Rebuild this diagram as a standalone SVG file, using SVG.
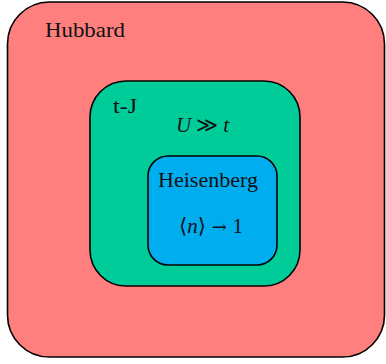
<svg xmlns="http://www.w3.org/2000/svg" width="386" height="364" viewBox="0 0 386 364">
<style>
.box{stroke:#000;stroke-width:1.6}
.t{font-family:"Liberation Serif","DejaVu Serif",serif;font-size:21px;fill:#111}
.m{font-style:italic}
.a{font-family:"DejaVu Serif",serif;font-size:18px}
</style>
<rect width="386" height="364" fill="#fff"/>
<g id="hubbard">
<rect class="box" x="7.5" y="2" width="377" height="355" rx="42" fill="#FF7F7F"/>
<text class="t" x="45" y="37" textLength="80" lengthAdjust="spacingAndGlyphs">Hubbard</text>
</g>
<g id="tj">
<rect class="box" x="90" y="81" width="210" height="205" rx="36" fill="#00CC99"/>
<text class="t" x="113" y="113" textLength="24" lengthAdjust="spacingAndGlyphs">t-J</text>
<text class="t" x="176" y="132" textLength="53" lengthAdjust="spacing"><tspan class="m">U</tspan> ≫ <tspan class="m">t</tspan></text>
</g>
<g id="heisenberg">
<rect class="box" x="148" y="156" width="129" height="109" rx="20" fill="#00AEEF"/>
<text class="t" x="158" y="187" textLength="100" lengthAdjust="spacingAndGlyphs">Heisenberg</text>
<text class="t" x="179" y="233" textLength="64" lengthAdjust="spacing">⟨<tspan class="m">n</tspan>⟩<tspan class="a"> → </tspan>1</text>
</g>
<g id="connectors"/>
</svg>
